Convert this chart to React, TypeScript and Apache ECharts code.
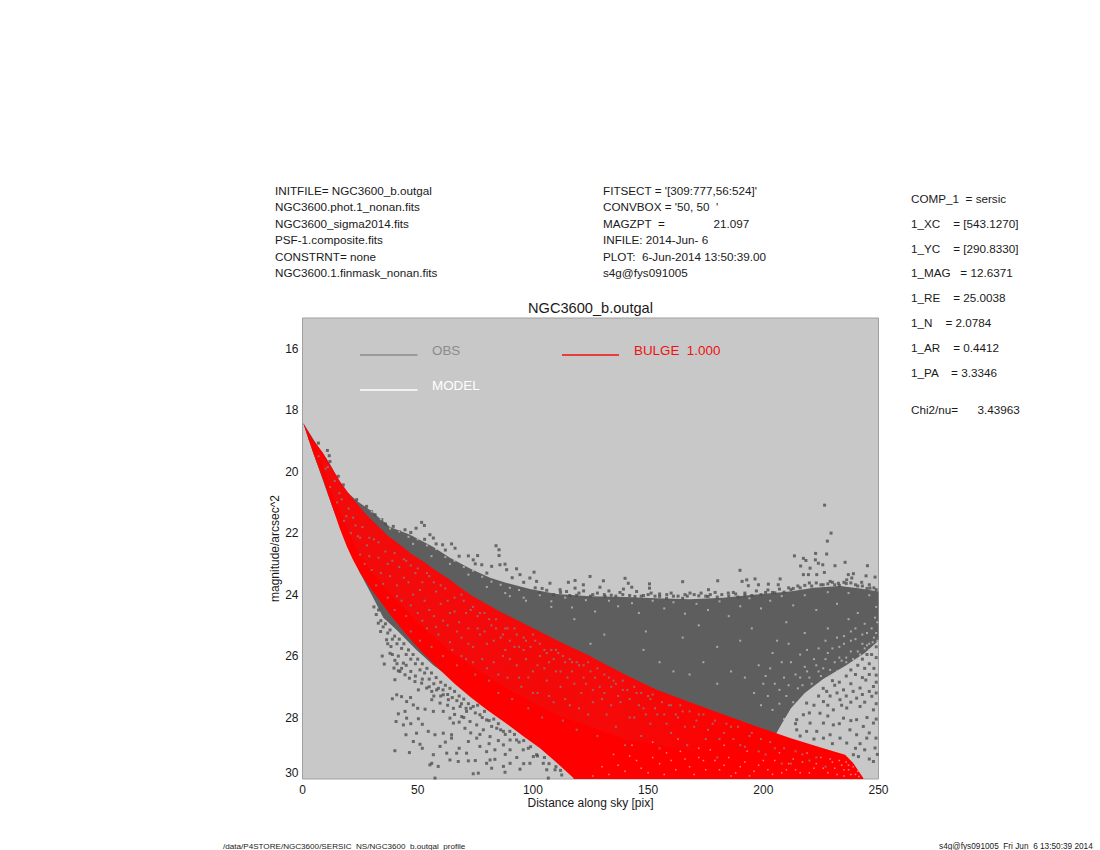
import React, { useEffect, useRef } from "react";
import * as echarts from "echarts";

const FONT = "'Liberation Sans', Arial, sans-serif";
const xTicks = [0, 50, 100, 150, 200, 250];
const yTicks = [16, 18, 20, 22, 24, 26, 28, 30];

const headerLeft = ["INITFILE= NGC3600_b.outgal", "NGC3600.phot.1_nonan.fits", "NGC3600_sigma2014.fits", "PSF-1.composite.fits", "CONSTRNT= none", "NGC3600.1.finmask_nonan.fits"];
const headerMid = ["FITSECT = '[309:777,56:524]'", "CONVBOX = '50, 50  '", "MAGZPT  =               21.097", "INFILE: 2014-Jun- 6", "PLOT:  6-Jun-2014 13:50:39.00", "s4g@fys091005"];
const headerRight = ["COMP_1  = sersic", "1_XC    = [543.1270]", "1_YC    = [290.8330]", "1_MAG   = 12.6371", "1_RE    = 25.0038", "1_N    = 2.0784", "1_AR    = 0.4412", "1_PA    = 3.3346"];

// Outline of the solid part of the observed cloud (distance, magnitude)
const obsOutline = [
  [0.3, 18.42], [6, 19.1], [11.9, 19.75], [17.7, 20.55], [23.5, 20.95], [29.3, 21.25], [38, 21.8], [46.7, 22.05], [56.8, 22.45], [64, 22.8], [72.7, 23.15], [81.4, 23.45], [88.6, 23.62], [98.7, 23.82], [110.3, 23.98], [124.8, 24.05], [140, 24.08], [153.7, 24.12], [168, 24.15], [182.7, 24.1], [197, 24.0], [211.6, 23.9], [222, 23.78], [233.3, 23.72], [242, 23.8], [250, 23.9],
  [250, 25.5], [244, 25.9], [236, 26.3], [226, 26.75], [218, 27.2], [212, 27.7], [208, 28.2], [205, 28.6], [150, 28], [100, 27.5], [72.7, 27.3], [64, 26.7], [56.8, 26.3], [49.5, 25.8], [40.9, 25.15], [35.1, 24.75], [30.7, 24.1], [25, 23.3], [13.4, 21.24], [4.7, 19.4],
];

// Outline of the red model cloud
const modelOutline = [
  [0.3, 18.42], [4.5, 18.95], [9, 19.4], [12.5, 19.85], [16.3, 20.32], [20, 20.7], [23.5, 21.02], [27.5, 21.38], [32.2, 21.73], [37, 22.08], [42.3, 22.38], [47, 22.66], [52.4, 22.92], [58, 23.22], [64, 23.52], [69, 23.8], [74.1, 24.06], [84.3, 24.49], [88.6, 24.66], [101.6, 25.15], [113, 25.58], [124.8, 26.0], [127.7, 26.12], [140, 26.6], [153.7, 27.1], [168.2, 27.5], [182.7, 27.9], [197.1, 28.29], [211.6, 28.67], [226, 29.0], [235.5, 29.21], [239, 29.48], [243.4, 29.97], [243.4, 30],
  [117.6, 30], [117.6, 29.97], [110, 29.45], [103.1, 29.0], [96, 28.62], [88.6, 28.2], [80, 27.75], [72.7, 27.32], [66, 26.9], [59.7, 26.45], [52, 25.88], [44.5, 25.25], [38.5, 24.7], [33.6, 24.2], [29, 23.75], [25, 23.3], [21.8, 22.85], [19.2, 22.43], [16.2, 21.85], [13.4, 21.24], [11, 20.72], [9, 20.26], [6.8, 19.82], [4.7, 19.4], [2.4, 18.9],
];

// Where grey shows through the red most
const modelMixedWide = [
  [6, 19.2], [16.3, 20.32], [23.5, 21.02], [32.2, 21.73], [42.3, 22.38], [52.4, 22.92], [64, 23.52], [74.1, 24.06], [88.6, 24.66], [101.6, 25.15], [124.8, 26.0], [153.7, 27.1], [175, 27.7], [195, 28.25],
  [170, 29.1], [140, 28.7], [110, 27.9], [85, 26.9], [65, 25.9], [50, 24.9], [36, 23.8], [24, 22.6], [14, 20.9],
];

const obsUpperPoints = [
  [3.2, 18.91], [6.9, 19.07], [10.8, 19.31], [11.6, 19.48], [9.8, 19.61], [11.9, 19.67], [15.5, 20.15], [17.7, 20.43], [23.5, 20.91], [27.8, 21.13], [31.5, 21.4], [34.4, 21.56], [39.4, 21.78], [44.5, 21.89], [49.3, 21.84], [51.7, 21.65], [52.9, 21.75], [55.3, 22.05], [56.8, 22.16], [60.8, 22.38], [64.7, 22.35], [66.2, 22.49], [72, 22.74], [76, 22.73], [74.1, 22.87], [77.8, 23.03], [84, 22.41], [85.3, 22.54], [85.3, 22.73], [82.1, 23.08], [85.7, 23.03], [87.9, 23.01], [88.6, 23.19], [92.9, 23.16], [94.4, 23.35], [100.5, 23.27], [98.7, 23.46], [101.6, 23.57], [107.4, 23.63], [115.4, 23.6], [118.3, 23.54], [121.9, 23.68], [118.3, 23.79], [114.6, 23.9], [111.8, 23.84],
  [226.6, 21.09], [229.4, 22.0], [227.8, 22.26], [213.5, 22.74], [222.7, 22.66], [227.5, 22.68], [217.4, 22.82], [218.5, 22.89], [222.6, 22.87], [223.9, 22.98], [225.8, 23.03], [231.1, 23.06], [235.5, 22.95], [245.2, 23.06], [216.2, 23.07], [220.3, 23.14], [217.4, 23.35], [219.6, 23.35], [223.2, 23.35], [226.5, 23.28], [239.1, 23.32], [236.9, 23.35], [244.6, 23.39], [248.5, 23.43], [238.4, 23.46], [236.2, 23.52], [242.7, 23.6], [246.3, 23.79], [232.6, 23.63], [229, 23.57],
  [124.8, 23.41], [130.6, 23.55], [140, 23.47], [141.4, 23.63], [142.9, 23.76], [139.3, 23.82], [137.8, 23.93], [150.6, 23.65], [150.6, 23.79], [151.3, 23.95], [129.1, 23.76], [165, 23.58], [180.2, 23.55], [190.8, 23.57], [192.8, 23.52], [196.4, 23.49], [189.9, 23.21], [207.3, 23.49], [202.2, 23.66], [197.9, 23.68], [193.5, 23.71], [206.5, 23.68], [176.2, 23.84], [179.1, 23.93], [184.8, 23.95], [166, 24], [168.2, 23.95], [158.1, 24], [131.3, 24.06], [144.3, 24.06],
  [126, 24.0], [134, 24.02], [148, 24.03], [155, 24.06], [161, 24.05], [172, 24.04], [176, 24.06], [188, 23.98], [192, 24.02], [201, 23.93], [205, 23.94], [212, 23.84], [216, 23.78], [221, 23.72], [226, 23.68], [231, 23.68], [236, 23.64], [241, 23.72], [245, 23.8], [249, 23.84],
  [30, 21.3], [36, 21.7], [42, 21.95], [47, 21.98], [53, 22.2], [58, 22.35], [62, 22.55], [68, 22.75], [75, 23.0], [80, 23.3], [91, 23.45], [96, 23.6], [104, 23.8], [120, 23.95],
  [101, 23.78], [103, 23.95], [106, 23.86], [109, 24.0], [112, 23.93], [116, 24.03], [119, 24.02], [122, 23.88], [125, 24.05], [128, 23.95], [131, 24.0], [133, 23.88], [136, 24.05], [139, 24.0], [142, 24.03], [145, 23.9], [147, 24.05], [150, 24], [153, 24.05], [155, 23.98], [158, 24.12], [160, 23.95], [163, 24.05], [165, 24.12], [167, 24.05], [170, 24.0], [173, 23.95], [175, 24.05], [177, 24.0], [180, 24.08], [182, 24.0], [185, 24.05], [187, 23.93], [189, 24.08], [192, 23.95], [195, 24.03], [197, 23.88], [199, 24.0], [202, 23.85], [204, 23.93], [207, 23.82], [209, 23.92], [211, 23.78], [213, 23.8], [215, 23.72], [218, 23.7], [220, 23.62], [223, 23.62], [225, 23.68], [228, 23.65], [230, 23.6], [233, 23.7], [235, 23.6], [238, 23.62], [240, 23.68], [243, 23.72], [246, 23.68], [248, 23.78],
];

const obsLowerPoints = [
  [34.6, 26], [35.5, 26.26], [40.1, 26.14], [39.7, 26.39], [41.6, 26.48], [40.1, 26.77], [39, 27.39], [40.9, 27.26], [43, 27.32], [46.9, 27.35], [45.2, 27.48], [48.1, 27.59], [41.6, 27.88], [44.5, 27.8], [40.6, 28.13], [43.8, 28.24], [45.2, 28.02], [50.3, 28.04], [52, 28.22], [44.9, 28.56], [49.5, 28.51], [48.1, 28.78], [51, 28.87], [40.1, 29.08], [46.4, 29.14], [55.3, 29.54], [57.5, 29.97], [56.8, 29.21], [59.7, 28.94], [62.6, 29.16], [66.9, 29.16], [67.6, 29.43], [72, 29.41], [74.1, 29.83], [76.3, 29.81], [81.4, 29.38], [83.5, 29.36], [87.9, 29.78], [94.4, 29.68], [98.7, 29.49], [101.6, 29.21], [106, 29.7], [106.7, 29.97],
  [32.9, 24.93], [33.9, 25.2], [36.5, 25.47], [38.4, 25.69], [38, 25.91], [41.6, 26], [43.8, 26.23], [42.3, 26.5], [44.5, 26.61], [46.4, 26.72], [48.8, 26.83], [51.7, 26.88], [53.9, 27.04], [50.3, 27.1], [56.1, 27.15], [58.2, 27.1], [61.1, 27.26], [63.3, 27.42], [59.7, 27.53], [56.1, 27.42], [53.2, 27.73], [56.8, 27.8], [61.1, 27.8], [65.5, 27.7], [68.4, 27.64], [71.2, 27.8], [74.1, 27.64], [69.1, 27.97], [64, 28.02], [65.5, 28.18], [72.7, 28.13], [77, 27.91], [79.9, 28.08], [82.1, 28.29], [75.6, 28.24], [70.5, 28.35], [78.5, 28.4], [84.3, 28.35], [87.2, 28.45], [81.4, 28.62], [75.6, 28.67], [72, 28.78], [64.7, 28.56], [64.7, 28.67], [61.1, 28.51], [57.5, 28.56], [54.6, 28.45], [90.1, 28.73], [92.9, 28.73], [87.2, 28.89], [90.1, 29.05], [83.5, 29.05], [77, 28.94], [79.9, 29.11], [71.2, 29.16], [95.8, 29.05], [100.2, 29.27], [104.5, 29.49], [109.6, 29.7], [112.5, 29.87], [90.1, 29.49], [87.2, 29.59], [82.1, 29.65], [79.9, 29.49], [64, 29.38], [58.9, 29.59], [56.1, 29.49],
  [31, 24.4], [32, 24.65], [33, 24.5], [34, 24.85], [35, 25.05], [36, 24.95], [37, 25.25], [38, 25.15], [39, 25.45], [40, 25.35], [41, 25.6], [42, 25.45], [43, 25.75], [44, 25.6], [45, 25.95], [46, 25.8], [47, 26.1], [48, 25.95], [49, 26.25], [50, 26.1], [51, 26.45], [52, 26.25], [53, 26.55], [54, 26.4], [55, 26.75], [56, 26.55], [57, 26.9], [58, 26.7], [59, 27.05], [60, 26.85], [61, 27.1], [62, 26.95], [63, 27.25], [64, 27.05], [65, 27.35], [66, 27.15], [67, 27.45], [68, 27.3], [69, 27.55], [70, 27.4], [71, 27.7], [72, 27.55], [73, 27.7], [75, 27.85], [76, 27.6], [78, 28.0], [79, 27.8], [81, 28.1], [83, 28.05], [85, 28.2], [86, 28.4], [88, 28.55], [90, 28.45], [92, 28.55], [94, 28.8], [96, 28.75], [98, 29], [99, 28.95], [102, 29.25], [105, 29.3], [107, 29.5], [110, 29.6], [112, 29.72], [37, 25.6], [39, 25.95], [41, 26.25], [43, 26.4], [45, 26.3], [47, 26.5], [49, 26.65], [52, 26.75], [55, 27], [57, 27.3], [60, 27.3], [63, 27.6], [66, 27.9], [68, 28.15], [70, 28.0], [73, 28.5], [77, 28.55], [81, 28.85], [85, 28.75], [88, 29.2], [93, 29.3], [96, 29.5], [75, 29.4], [68, 29.0], [62, 28.8], [52, 29.0], [47, 28.2], [50, 27.7],
  [247.8, 29.43], [246, 29.35], [241.3, 29.27], [239.1, 29.21], [248.5, 28.99], [244.9, 28.67], [248.9, 28.67], [240.5, 28.56], [236.2, 28.83], [233.3, 28.67], [229, 28.56], [226.1, 28.67], [223.2, 28.45], [218.8, 28.45], [214.5, 28.4], [237.6, 28.4], [243.4, 28.29], [247.8, 28.18], [240.5, 28.07], [234.8, 28.02], [230.4, 28.24], [226.1, 28.18], [220.3, 28.18], [214.5, 28.07], [217.4, 27.91], [224.6, 27.86], [230.4, 27.75], [236.2, 27.69], [242, 27.64], [247.8, 27.75], [218.8, 27.53], [226.1, 27.48], [233.3, 27.42], [240.5, 27.37], [247.1, 27.31], [227.5, 27.15], [234.8, 27.1], [242, 27.04], [247.8, 26.99], [244.5, 26.78], [249, 26.62], [238, 26.9], [231, 26.95],
  [249, 25.7], [247, 25.95], [245, 25.95], [243, 26.1], [249, 26.05], [246, 26.25], [248, 26.4], [244, 26.4], [241, 26.3], [238, 26.45], [240, 26.6], [243, 26.7], [246, 26.6], [249, 26.85], [236, 26.65], [230, 26.8], [233, 26.85], [226, 27.05], [229, 27.3], [224, 27.3], [222, 27.6], [228, 27.6], [232, 27.2], [236, 27.3], [239, 27.15], [243, 27.25], [246, 27.15], [249, 27.2], [238, 27.5], [244, 27.5], [249, 27.55], [234, 27.6], [220, 27.85], [214, 28.2], [228, 27.95], [233, 28.2], [238, 28.1], [245, 28], [249, 28.05], [216, 28.6], [222, 28.7], [230, 28.85], [242, 28.85], [246, 28.5], [249.5, 29.2], [244, 29.05], [240, 29],
];

// Pale holes inside the observed cloud
const obsGaps = [
  [200, 26.9], [203, 26.4], [207, 27.1], [209, 26.7], [212, 26.2], [214, 26.6], [216, 26.7], [218, 26.35], [220, 26.7], [222, 26.1], [224, 26.5], [226, 26.4], [228, 25.9], [229, 26.45], [231, 26.2], [233, 25.7], [234, 26.15], [236, 26.05], [238, 25.5], [239, 26.1], [241, 25.85], [242, 25.95], [243, 25.3], [244, 25.75], [245, 25.65], [246, 25.6], [247, 25.1], [248, 25.4], [249, 25.25], [249.5, 24.9], [240, 25.1], [235, 25.35], [227, 25.5], [219, 25.8], [211, 25.6], [204, 25.9], [198, 26.3], [192, 26.7], [186, 26.5], [180, 26.9], [174, 26.2], [168, 26.6], [161, 26.5], [155, 26.2], [148, 25.8], [180, 25.7], [190, 25.5], [165, 25.4], [195, 25.1], [210, 24.9], [172, 25.0], [149, 25.2], [131, 25.3], [125, 25.6], [118, 24.8], [108, 24.4], [97, 24.2], [90, 24.05],
  [103, 24.02], [108, 24.22], [114, 24.1], [117, 24.42], [123, 24.18], [127, 24.55], [133, 24.2], [137, 24.38], [143, 24.28], [146, 24.6], [152, 24.2], [157, 24.45], [161, 24.25], [166, 24.62], [171, 24.3], [176, 24.5], [181, 24.22], [185, 24.7], [190, 24.38], [194, 24.12], [199, 24.45], [203, 24.2], [208, 24.05], [213, 24.35], [218, 24.02], [223, 24.5], [228, 23.92], [232, 24.3], [237, 23.95], [241, 24.6], [246, 24.02], [249, 24.4],
  [30, 21.3], [34, 21.55], [38, 21.85], [42, 21.95], [46, 22.12], [50, 22.2], [54, 22.4], [58, 22.52], [62, 22.78], [66, 22.9], [70, 23.1], [74, 23.22], [78, 23.42], [82, 23.58], [86, 23.68], [90, 23.78], [94, 23.85], [48, 22.35], [56, 22.75], [64, 23.0], [72, 23.35], [80, 23.75], [88, 23.95], [96, 24.1],
  [196, 27.2], [199, 27.6], [202, 27.3], [204, 27.75], [205, 26.9], [207, 27.55], [209, 28.05], [210, 27.3], [211, 26.95], [213, 27.5], [215, 27.05], [217, 26.95], [219, 26.5], [221, 26.9], [223, 26.3], [225, 26.65], [227, 26.1], [229, 26.65], [230, 25.75], [232, 26.5], [233, 26.05], [235, 25.6], [236, 26.2], [238, 25.85], [240, 25.45], [241, 26.1], [243, 25.6], [245, 25.25], [246, 25.8], [247.5, 25.55], [248.5, 24.75], [249.5, 25.5], [244, 24.95], [238, 25.2], [232, 25.4], [224, 25.75], [216, 25.95], [208, 26.2], [201, 26.65], [237, 24.8], [228, 25.1], [218, 25.25], [206, 25.5],
];

// Grey points showing through the red cloud
const modelSpecks = [
  [7, 19.5], [10, 19.9], [12, 20.5], [14, 20.3], [15, 21], [17, 20.9], [18, 21.6], [20, 21.2], [21, 22], [22, 21.5], [24, 22.1], [25, 22.7], [26, 21.8], [27, 23], [28, 22.4], [30, 23.2], [31, 22.2], [32, 23.7], [33, 22.8], [34, 23.3], [36, 22.6], [37, 24.1], [38, 23.4], [39, 22.9], [40, 24.5], [41, 23.7], [42, 23.1], [43, 24.2], [45, 22.9], [45, 24.7], [46, 23.6], [47, 25.2], [48, 24], [49, 23.3], [50, 24.6], [51, 25.5], [52, 23.6], [53, 24.2], [54, 25.1], [55, 23.4], [56, 25.7], [57, 24.7], [58, 23.9], [59, 25.3], [60, 24.3], [61, 26], [62, 23.8], [63, 25], [64, 24.6], [65, 25.8], [66, 24.1], [67, 26.3], [68, 24.9], [69, 25.4], [70, 24.2], [71, 26.1], [72, 25.1], [73, 24.5], [74, 25.7], [75, 26.6], [76, 24.7], [77, 25.3], [78, 26.1], [79, 24.6], [80, 25.6], [81, 26.8], [82, 25], [83, 26.2], [84, 24.8], [85, 27.2], [86, 25.4], [87, 26], [88, 25.1], [89, 26.7], [90, 25.5], [91, 27.4], [92, 25.1], [93, 26.3], [94, 25.7], [95, 27], [96, 25.4], [97, 26.1], [98, 27.7], [99, 25.7], [100, 26.5], [101, 25.5], [102, 27.2], [103, 26], [104, 28], [105, 25.8], [106, 26.8], [107, 26.2], [108, 25.8], [109, 27.5], [110, 26.5], [111, 25.9], [112, 27], [113, 28.1], [114, 26.2], [115, 26.7], [116, 27.6], [117, 26.2], [118, 26.9], [119, 28.4], [120, 26.3], [121, 27.2], [122, 26.7], [124, 27.9], [125, 26.5], [126, 27.1], [127, 26.7], [128, 28.6], [130, 27.4], [131, 26.6], [132, 27.9], [134, 27], [135, 26.8], [136, 28.3], [138, 27.5], [139, 27.1], [140, 28.9], [142, 27.4], [144, 28], [145, 27.2], [147, 28.6], [148, 27.7], [150, 27.3], [151, 28.2], [153, 27.7], [155, 29], [157, 27.9], [159, 27.6], [160, 28.5], [163, 28], [165, 27.8], [167, 28.9], [170, 28.3], [172, 27.9], [175, 28.7], [178, 28.2], [180, 29.3], [183, 28.5], [186, 28.3], [190, 28.9], [194, 28.6], [198, 29.1], [203, 28.8], [208, 29.5], [214, 29.1], [220, 29.4], [227, 29.6],
  [11, 19.85], [16, 20.7], [19, 21.45], [23, 21.75], [25, 22.15], [29, 22.15], [29, 22.75], [33, 22.3], [35, 23.65], [37, 23], [40, 22.65], [41, 24.05], [44, 22.85], [44, 23.45], [47, 23.05], [47, 24.35], [50, 23.15], [51, 23.85], [52, 24.85], [54, 23.3], [55, 24.5], [57, 23.6], [58, 25.05], [60, 23.7], [61, 24.85], [63, 24.2], [64, 25.55], [66, 24.55], [67, 25.2], [69, 24], [69, 26], [71, 24.6], [72, 25.6], [74, 24.4], [74, 26.2], [76, 25.1], [77, 24.6], [79, 25.2], [80, 26.4], [81, 24.8], [83, 25.5], [84, 25.1], [85, 26.6], [87, 25.3], [88, 25.8], [89, 25.1], [90, 26.1], [92, 25.7], [93, 25.3], [94, 26.7], [96, 25.8], [97, 25.5], [98, 26.7], [100, 25.3], [100, 27.2], [102, 26.3], [103, 25.6], [105, 26.4], [106, 25.9], [107, 27.3], [109, 26.1], [110, 25.8], [112, 26.5], [113, 26], [114, 27.4], [116, 26.1], [117, 26.5], [119, 26.2], [120, 27.7], [122, 26.3], [123, 26.9], [124, 26.2], [126, 27.5], [128, 26.4], [129, 27], [131, 27.2], [133, 26.7], [134, 27.6], [136, 26.9], [137, 27.3], [139, 26.8], [141, 27.1], [142, 28], [144, 27], [146, 27.6], [147, 27.2], [149, 27.9], [151, 27.4], [152, 27.25], [154, 27.9], [156, 27.5], [158, 28.2], [160, 27.6], [162, 27.9], [164, 27.6], [166, 28.3], [168, 27.8], [171, 28.1], [174, 27.9], [176, 28.4], [179, 28.1], [181, 28.7], [184, 28.2], [187, 28.7], [189, 28.3], [192, 28.95], [195, 28.5], [199, 28.7], [201, 29.2], [205, 29], [209, 29], [212, 29.5], [217, 29.2], [223, 29.3],
];

// Pale points where the red cloud thins out towards the lower right
const modelPale = [
  [130, 29.6], [135, 29.2], [140, 29.75], [145, 29.4], [150, 29.8], [155, 29.5], [158, 29.15], [162, 29.7], [166, 29.35], [170, 29.85], [174, 29.4], [177, 29.05], [181, 29.7], [185, 29.3], [188, 29.8], [192, 29.45], [196, 29.75], [200, 29.4], [204, 29.85], [207, 29.15], [210, 29.7], [213, 29.35], [216, 29.8], [219, 29.15], [222, 29.65], [225, 29.3], [228, 29.8], [230, 29.45], [232, 29.85], [234, 29.55], [235, 29.9], [236, 29.45], [237, 29.7], [238, 29.85], [239, 29.6], [240, 29.85], [241, 29.75], [241.5, 29.92], [193, 29.1], [183, 28.9], [172, 29], [163, 28.7], [152, 28.8], [143, 28.9],
  [126, 29.9], [133, 29.85], [137, 29.55], [142, 29.25], [147, 29.65], [152, 29.3], [157, 29.85], [160, 29.4], [164, 29.1], [168, 29.6], [172, 29.3], [175, 29.7], [179, 29.4], [183, 29.55], [186, 29.9], [190, 29.6], [194, 29.9], [198, 29.55], [202, 29.7], [205, 29.4], [208, 29.8], [211, 29.5], [214, 29.7], [217, 29.45], [220, 29.8], [223, 29.5], [226, 29.65], [229, 29.35], [231, 29.65], [233, 29.4], [235, 29.7], [237, 29.55],
];

const mixFade = () =>
  new echarts.graphic.LinearGradient(0, 0, 1, 0, [
    { offset: 0, color: "rgba(130,110,110,0.1)" },
    { offset: 0.7, color: "rgba(130,110,110,0.08)" },
    { offset: 1, color: "rgba(130,110,110,0)" },
  ]);

const polygonSeries = (name: string, outline: number[][], fill: any, z: number) => ({
  type: "custom",
  name,
  silent: true,
  z,
  coordinateSystem: "cartesian2d",
  data: outline,
  encode: { x: 0, y: 1 },
  renderItem: (params: any, api: any) => {
    if (params.dataIndex !== 0) return null;
    return {
      type: "polygon",
      shape: { points: outline.map((p) => api.coord(p)) },
      style: { fill, stroke: null },
    };
  },
});

const pointSeries = (name: string, data: number[][], color: string, size: number, z: number) => ({
  type: "scatter",
  name,
  silent: true,
  z,
  symbol: "rect",
  symbolSize: size,
  itemStyle: { color },
  data,
});

const txt = (text: string, x: number, y: number, fontSize = 11.7, fill = "#1a1a1a") => ({
  type: "text",
  x,
  y,
  silent: true,
  style: { text, fontSize, fontFamily: FONT, fill, verticalAlign: "middle", textAlign: "left" },
});

const legendLine = (x1: number, x2: number, y: number, stroke: string) => ({
  type: "line",
  silent: true,
  z: 50,
  shape: { x1, y1: y, x2, y2: y },
  style: { stroke, lineWidth: 1.3 },
});

export default function App() {
  const ref = useRef<HTMLDivElement>(null);
  useEffect(() => {
    const chart = echarts.init(ref.current!, null, { renderer: "svg" });
    const leftY = [190, 206.5, 223, 239.5, 256, 272];
    const rightY = [198.5, 223, 248, 272.5, 297, 322, 347, 372];
    chart.setOption({
      animation: false,
      backgroundColor: "#ffffff",
      title: {
        text: "NGC3600_b.outgal",
        left: 585.5,
        top: 295,
        textAlign: "center",
        textStyle: { fontFamily: FONT, fontSize: 14.6, fontWeight: "normal", color: "#1a1a1a" },
      },
      grid: { left: 302.5, top: 318, width: 576, height: 461, show: true, backgroundColor: "#c8c8c8", borderColor: "#a0a0a0", borderWidth: 1 },
      xAxis: {
        type: "value",
        min: 0,
        max: 250,
        interval: 50,
        name: "Distance along sky [pix]",
        nameLocation: "middle",
        nameGap: 18,
        nameMoveOverlap: false,
        nameTextStyle: { fontFamily: FONT, fontSize: 12, color: "#1a1a1a" },
        axisLine: { show: false },
        axisTick: { show: false },
        splitLine: { show: false },
        axisLabel: { margin: 5, fontFamily: FONT, fontSize: 12, color: "#1a1a1a", customValues: xTicks },
      },
      yAxis: {
        type: "value",
        inverse: true,
        min: 15,
        max: 30,
        name: "magnitude/arcsec^2",
        nameLocation: "middle",
        nameGap: 22,
        nameMoveOverlap: false,
        nameTextStyle: { fontFamily: FONT, fontSize: 12, color: "#1a1a1a" },
        axisLine: { show: false },
        axisTick: { show: false },
        splitLine: { show: false },
        axisLabel: { margin: 4, fontFamily: FONT, fontSize: 12, color: "#1a1a1a", customValues: yTicks, verticalAlignMaxLabel: "bottom" },
      },
      series: [
        polygonSeries("OBS", obsOutline, "#5e5e5e", 2),
        pointSeries("OBS upper", obsUpperPoints, "#4f4f4f", 3, 3),
        pointSeries("OBS lower", obsLowerPoints, "#505050", 3, 3),
        pointSeries("OBS gaps", obsGaps, "#bdbdbd", 2, 4),
        polygonSeries("BULGE", modelOutline, "#ff0000", 5),
        polygonSeries("BULGE mixed", modelMixedWide, mixFade(), 5.2),
        pointSeries("BULGE specks", modelSpecks, "#8c7c7c", 2, 6),
        pointSeries("BULGE pale", modelPale, "#f7a0a0", 1.5, 6),
      ],
      graphic: [
        ...headerLeft.map((t, i) => txt(t, 275, leftY[i])),
        ...headerMid.map((t, i) => txt(t, 603, leftY[i])),
        ...headerRight.map((t, i) => txt(t, 911, rightY[i])),
        txt("Chi2/nu=      3.43963", 911, 409),
        legendLine(360, 417.5, 355, "#8c8c8c"),
        { ...txt("OBS", 432, 350.5, 13.4, "#8c8c8c"), z: 50 },
        legendLine(360, 417.5, 390, "#ffffff"),
        { ...txt("MODEL", 432, 385.5, 13.4, "#ffffff"), z: 50 },
        legendLine(562, 619, 355, "#ee1111"),
        { ...txt("BULGE  1.000", 634, 350.5, 13.4, "#ee1111"), z: 50 },
        txt("/data/P4STORE/NGC3600/SERSIC_NS/NGC3600_b.outgal_profile", 223, 846, 8.1),
        txt("s4g@fys091005  Fri Jun  6 13:50:39 2014", 939, 846, 8.25),
      ],
    });
    return () => chart.dispose();
  }, []);
  return <div ref={ref} style={{ position: "fixed", left: 0, top: 0, width: 1100, height: 850 }} />;
}
